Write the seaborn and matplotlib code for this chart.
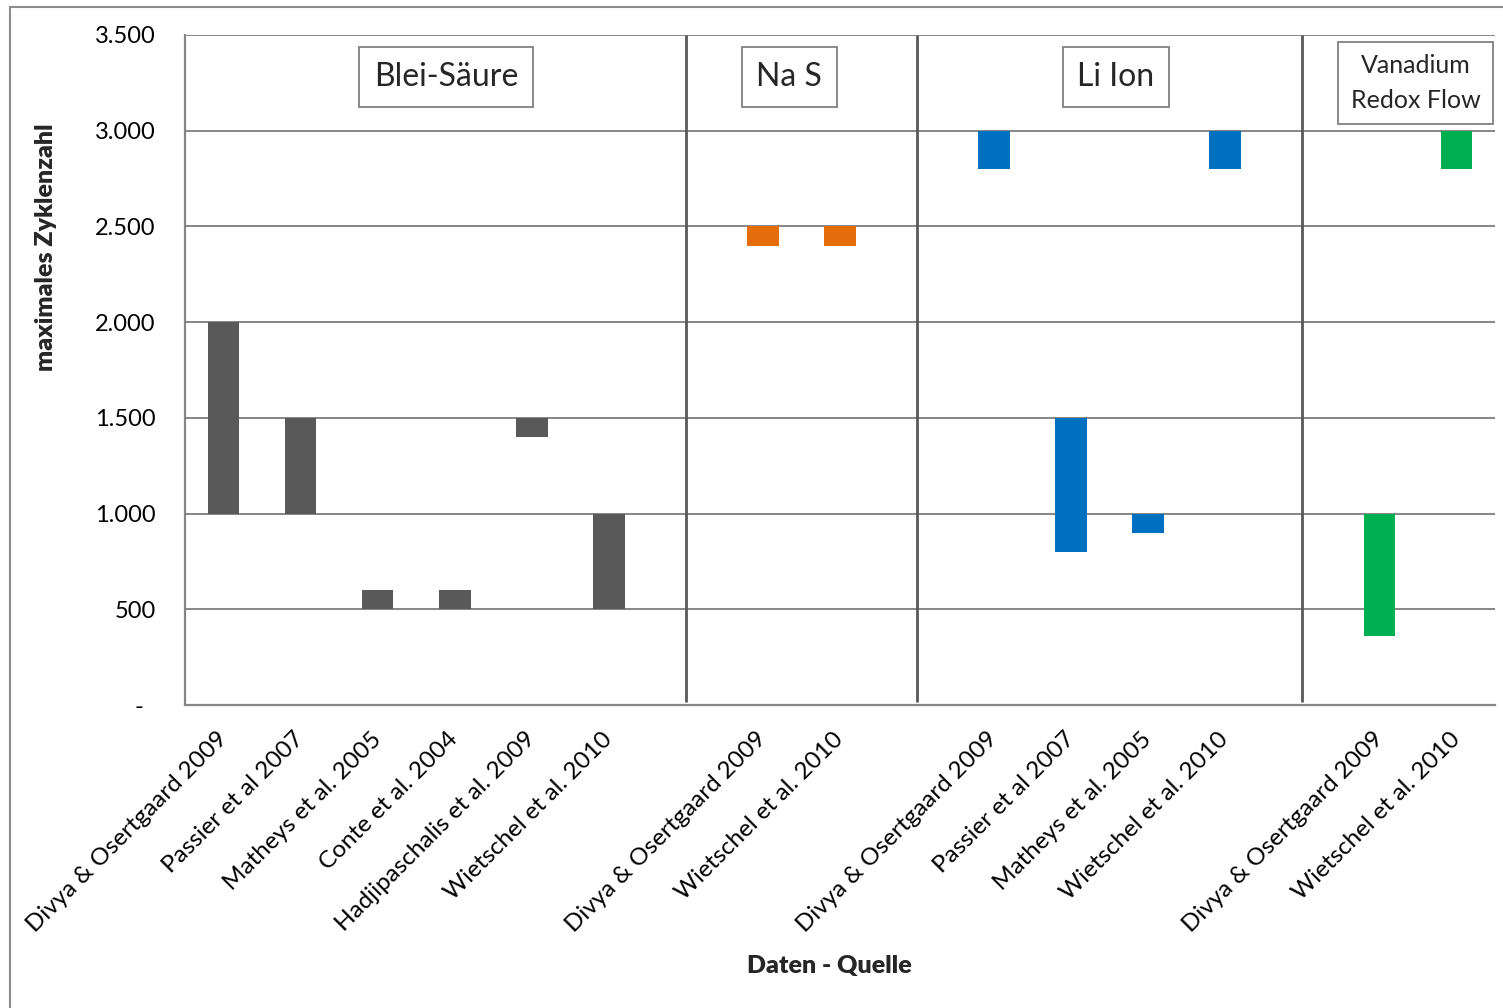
import matplotlib
matplotlib.use("Agg")
import matplotlib.pyplot as plt
import matplotlib.patches as mpatches
import numpy as np
import pandas as pd
import seaborn as sns

# Technology groups and the sources cited for each
groups = ["Blei-Säure", "Na S", "Li Ion", "Vanadium\nRedox Flow"]
group_colors = ["#595959", "#E46C0A", "#0070C0", "#00B050"]

lead_sources = ["Divya & Osertgaard 2009", "Passier et al 2007", "Matheys et al. 2005",
                "Conte et al. 2004", "Hadjipaschalis et al. 2009", "Wietschel et al. 2010"]
lead_low = [1000, 1000, 500, 500, 1400, 500]
lead_high = [2000, 1500, 600, 600, 1500, 1000]

nas_sources = ["Divya & Osertgaard 2009", "Wietschel et al. 2010"]
nas_low = [2400, 2400]
nas_high = [2500, 2500]

liion_sources = ["Divya & Osertgaard 2009", "Passier et al 2007", "Matheys et al. 2005",
                 "Wietschel et al. 2010"]
liion_low = [2800, 800, 900, 2800]
liion_high = [3000, 1500, 1000, 3000]

vrf_sources = ["Divya & Osertgaard 2009", "Wietschel et al. 2010"]
vrf_low = [360, 2800]
vrf_high = [1000, 3000]

sources = [lead_sources, nas_sources, liion_sources, vrf_sources]
lows = [lead_low, nas_low, liion_low, vrf_low]
highs = [lead_high, nas_high, liion_high, vrf_high]

y_ticks = [0, 500, 1000, 1500, 2000, 2500, 3000, 3500]

# Build one long table; an empty slot separates consecutive groups
rows = []
order = []
tick_text = []
gap_slots = []
for gi, (g, src, lo, hi) in enumerate(zip(groups, sources, lows, highs)):
    for s, l, h in zip(src, lo, hi):
        key = f"{g}|{s}"
        rows.append({"key": key, "group": g, "source": s, "low": l, "span": h - l})
        order.append(key)
        tick_text.append(s)
    if gi < len(groups) - 1:
        gap_key = f"gap{gi}"
        order.append(gap_key)
        tick_text.append("")
        gap_slots.append(len(order) - 1)
df = pd.DataFrame(rows)

sns.set_theme(style="white")
plt.rcParams["font.family"] = ["Lato", "DejaVu Sans"]

fig = plt.figure(figsize=(15.03, 10.08), dpi=100)
ax = fig.add_axes([185 / 1503, 1 - 705 / 1008, 1310 / 1503, 670 / 1008])

grid_c = "#868686"
for g, col in zip(groups, group_colors):
    sub = df[df["group"] == g]
    sns.barplot(data=sub, x="key", y="span", order=order, color=col,
                saturation=1, width=0.41, errorbar=None, bottom=sub["low"].values,
                ax=ax, zorder=3, linewidth=0)

ax.set_xlim(-0.5, len(order) - 0.5)
ax.set_ylim(0, 3500)

# Horizontal gridlines
ax.set_yticks(y_ticks)
ax.set_yticklabels(["-  " if v == 0 else f"{v:,.0f}".replace(",", ".") for v in y_ticks])
ax.yaxis.grid(True, color=grid_c, linewidth=1.4, zorder=0)
ax.xaxis.grid(False)
ax.set_axisbelow(True)

# Category labels at slot centres, tick marks at slot boundaries
ax.set_xticks(range(len(order)))
ax.set_xticklabels(tick_text, rotation=45, ha="right", va="center",
                   rotation_mode="anchor", fontsize=17.5)
ax.set_xticks(np.arange(-0.5, len(order), 1.0), minor=True)
ax.tick_params(axis="x", which="major", length=0, pad=22)
ax.tick_params(axis="x", which="minor", length=7, width=1.4, color=grid_c, direction="out")
ax.tick_params(axis="y", which="major", length=7, width=1.4, color=grid_c,
               direction="out", labelsize=17, pad=14)
ax.tick_params(axis="both", colors=grid_c, labelcolor="black", which="both")

for side in ["top", "right"]:
    ax.spines[side].set_visible(False)
for side in ["left", "bottom"]:
    ax.spines[side].set_color(grid_c)
    ax.spines[side].set_linewidth(1.6)

# Separators between technology groups
ax.vlines(gap_slots, 15, 3500, color="#595959", linewidth=2, zorder=4)

# Group title boxes
box_x = [2.89, 7.34, 11.58, 15.47]
box_y = [3281, 3281, 3281, 3249]
box_fs = [23, 23, 23, 18]
box_pad = [0.46, 0.46, 0.46, 0.5]
box_ls = [1.2, 1.2, 1.2, 1.6]
for g, bx, by, fs, pd_, ls in zip(groups, box_x, box_y, box_fs, box_pad, box_ls):
    ax.text(bx, by, g, ha="center", va="center", fontsize=fs, zorder=5,
            linespacing=ls,
            bbox=dict(boxstyle=f"square,pad={pd_}", facecolor="white",
                      edgecolor="#808080", linewidth=1.3))

ax.set_ylabel("maximales Zyklenzahl", fontsize=18, fontweight="heavy")
ax.yaxis.set_label_coords(-0.098, 0.684)
ax.set_xlabel("Daten - Quelle", fontsize=18, fontweight="heavy")
ax.xaxis.set_label_coords(0.4916, -0.373)

# Outer chart frame
fig.patches.append(mpatches.Rectangle((10 / 1503, -0.05), 1.2, 1 - 7 / 1008 + 0.05,
                                      transform=fig.transFigure, fill=False,
                                      edgecolor="#8c8c8c", linewidth=1.5))

fig.savefig("out.png", dpi=100)
